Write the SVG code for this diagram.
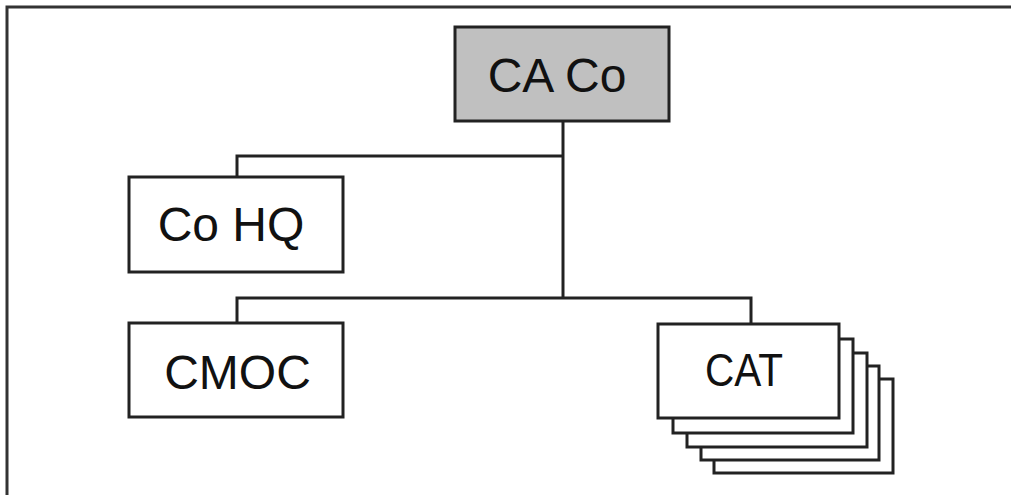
<svg xmlns="http://www.w3.org/2000/svg" width="1011" height="495" viewBox="0 0 1011 495">
<style>
.box{fill:#fff;stroke:#222;stroke-width:3}
.top{fill:#c0c0c0}
.lbl{font-family:"Liberation Sans",Arial,sans-serif;font-size:48px;fill:#111}
.conn{fill:none;stroke:#222;stroke-width:3}
</style>
<rect x="0" y="0" width="1011" height="495" fill="#fff"/>
<path d="M7 495 V7 H1011" fill="none" stroke="#333" stroke-width="3"/>
<g id="connectors">
<path class="conn" d="M563 121 V298"/>
<path class="conn" d="M237 177 V156 H563"/>
<path class="conn" d="M237 323 V298 H751 V324"/>
</g>
<g id="ca-co">
<rect class="box top" x="455" y="27" width="214" height="94"/>
<text class="lbl" x="557" y="92" text-anchor="middle">CA Co</text>
</g>
<g id="co-hq">
<rect class="box" x="129" y="177" width="214" height="95"/>
<text class="lbl" x="231" y="241" text-anchor="middle">Co HQ</text>
</g>
<g id="cmoc">
<rect class="box" x="129" y="323" width="214" height="94"/>
<text class="lbl" x="237.5" y="389" text-anchor="middle">CMOC</text>
</g>
<g id="cat">
<rect class="box" x="714" y="379" width="179" height="94"/>
<rect class="box" x="701" y="366" width="178" height="94"/>
<rect class="box" x="687" y="353" width="180" height="94"/>
<rect class="box" x="673" y="339" width="180" height="94"/>
<rect class="box" x="658" y="324" width="181" height="94"/>
<text class="lbl" x="705" y="386" font-size="46" textLength="78" lengthAdjust="spacingAndGlyphs" style="font-size:46px">CAT</text>
</g>
</svg>
